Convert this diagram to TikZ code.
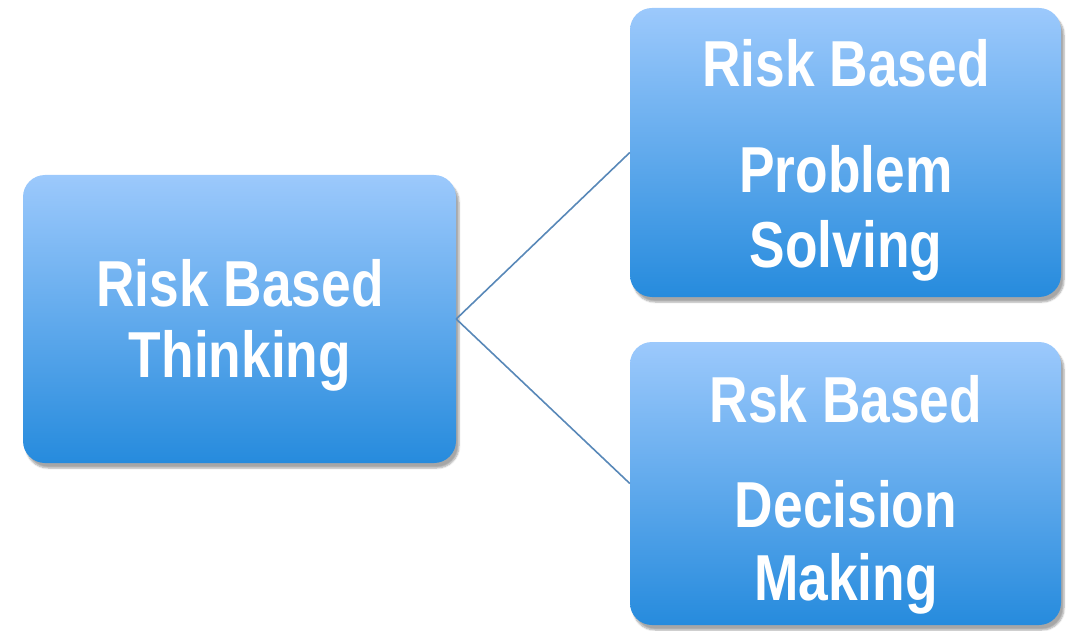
\documentclass[tikz,border=0pt]{standalone}
\usepackage{fontspec}
\newfontfamily\boxfont{Liberation Sans}[FakeStretch=0.82]
\usetikzlibrary{shadows.blur}
\definecolor{boxtop}{RGB}{156,201,252}
\definecolor{boxbottom}{RGB}{38,139,221}
\definecolor{linkblue}{RGB}{88,136,184}
\tikzset{
  riskbox/.style={rounded corners=22pt, minimum width=#1, inner sep=0pt,
    top color=boxtop, bottom color=boxbottom, draw=none,
    blur shadow={shadow xshift=3pt, shadow yshift=-5pt, shadow blur steps=6,
      shadow blur extra rounding=3pt, shadow opacity=35}},
  riskbox/.default=432pt,
  boxtext/.style={anchor=base, text=white, inner sep=0pt,
    font=\boxfont\bfseries\fontsize{65}{73}\selectfont},
  link/.style={draw=linkblue, line width=1.6pt}
}
\begin{document}
\begin{tikzpicture}[x=1pt, y=-1pt]
  \useasboundingbox (0,0) rectangle (1071,631);
  % the three boxes
  \node[riskbox=433pt, minimum height=288pt] (rbt) at (239.5,319) {};
  \node[riskbox=431pt, minimum height=289pt] (rbps) at (845.5,152.5) {};
  \node[riskbox=431pt, minimum height=283pt] (rbdm) at (845.5,483.5) {};
  % connectors
  \draw[link] (rbt.east) -- (rbps.west);
  \draw[link] (rbt.east) -- (rbdm.west);
  % labels, one node per line, set on their baselines
  \node[boxtext] (rbt1) at (240,306) {Risk Based};
  \node[boxtext] (rbt2) at (240,377) {Thinking};
  \node[boxtext] (rbps1) at (846,87) {Risk Based};
  \node[boxtext] (rbps2) at (846,193) {Problem};
  \node[boxtext] (rbps3) at (846,268) {Solving};
  \node[boxtext] (rbdm1) at (846,422) {Rsk Based};
  \node[boxtext] (rbdm2) at (846,527) {Decision};
  \node[boxtext] (rbdm3) at (846,600) {Making};
\end{tikzpicture}
\end{document}
